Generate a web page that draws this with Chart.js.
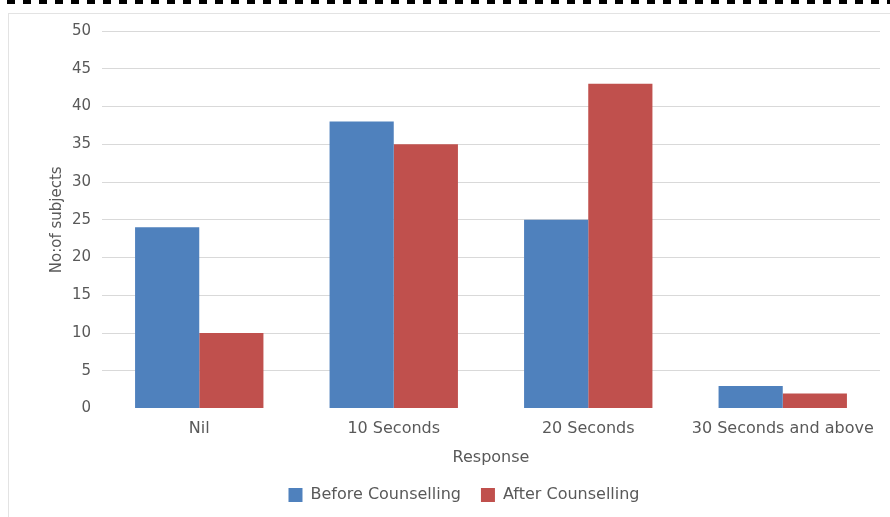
<!DOCTYPE html>
<html><head><meta charset="utf-8">
<script src="https://cdn.jsdelivr.net/npm/chart.js@4/dist/chart.umd.min.js"></script>
<style>
html,body{margin:0;padding:0;background:#fff;width:890px;height:517px;overflow:hidden;}
#dash{position:absolute;left:7px;top:0;width:883px;height:4px;background:repeating-linear-gradient(to right,#000 0 8px,transparent 8px 16px);}
#box{position:absolute;left:8px;top:13px;width:890px;height:520px;border:1px solid #e3e3e3;box-sizing:border-box;}
#wrap{position:absolute;left:0;top:0;width:890px;height:517px;}
</style></head><body>
<div id="dash"></div><div id="box"></div>
<div id="wrap"><canvas id="c" width="890" height="517"></canvas></div>
<script>
const categories = ["Nil", "10 Seconds", "20 Seconds", "30 Seconds and above"];
const beforeCounselling = [24, 38, 25, 3];
const afterCounselling = [10, 35, 43, 2];
const seriesNames = ["Before Counselling", "After Counselling"];
const yTicks = [0, 5, 10, 15, 20, 25, 30, 35, 40, 45, 50];

const FONT = "'DejaVu Sans', 'Open Sans', sans-serif";
const GREY = "#595959";
new Chart(document.getElementById('c'), {
  type: 'bar',
  data: {
    labels: categories,
    datasets: [
      {label: seriesNames[0], data: beforeCounselling, backgroundColor: '#4F81BD', borderWidth: 0},
      {label: seriesNames[1], data: afterCounselling, backgroundColor: '#C0504D', borderWidth: 0}
    ]
  },
  options: {
    responsive: false,
    animation: false,
    devicePixelRatio: 1,
    layout: {padding: {left: 48, right: 10, top: 31, bottom: 4}},
    datasets: {bar: {categoryPercentage: 0.66, barPercentage: 1.0}},
    scales: {
      x: {
        grid: {display: false},
        border: {display: false},
        ticks: {color: GREY, font: {family: FONT, size: 16}, padding: 3, maxRotation: 0},
        title: {display: true, text: 'Response', color: GREY, font: {family: FONT, size: 16}, padding: {top: 6, bottom: 0}}
      },
      y: {
        min: 0, max: 50,
        afterBuildTicks: s => { s.ticks = yTicks.map(v => ({value: v})); },
        afterFit: s => { s.width = 54; },
        grid: {color: ctx => (ctx.tick && ctx.tick.value === 0) ? 'rgba(0,0,0,0)' : '#D9D9D9', lineWidth: 1, drawTicks: false},
        border: {display: false},
        ticks: {color: GREY, font: {family: FONT, size: 15}, padding: 11},
        title: {display: true, text: 'No:of subjects', color: GREY, font: {family: FONT, size: 15}, padding: 0}
      }
    },
    plugins: {
      legend: {
        position: 'bottom',
        labels: {color: GREY, font: {family: FONT, size: 16}, boxWidth: 14, boxHeight: 14, padding: 20}
      },
      tooltip: {enabled: false}
    }
  }
});
</script></body></html>
